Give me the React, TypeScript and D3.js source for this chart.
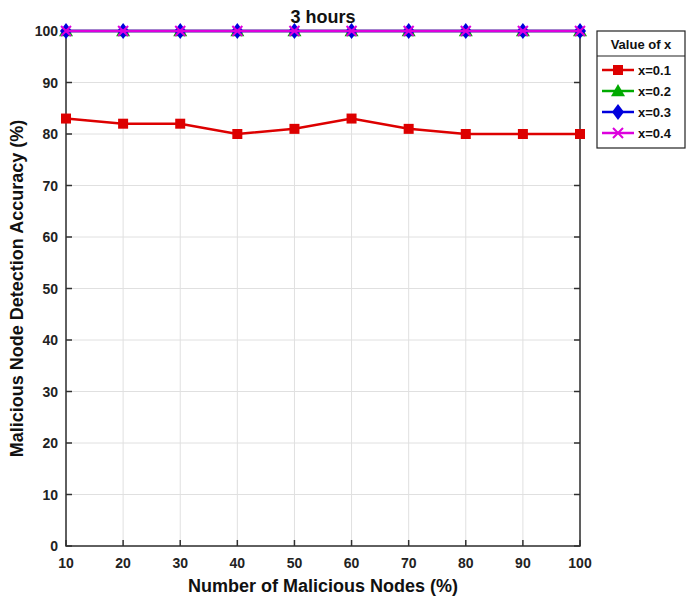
import React from "react";
import * as d3 from "d3";

const xValues = [10, 20, 30, 40, 50, 60, 70, 80, 90, 100];
const seriesX01 = [83, 82, 82, 80, 81, 83, 81, 80, 80, 80];
const seriesX02 = [100, 100, 100, 100, 100, 100, 100, 100, 100, 100];
const seriesX03 = [100, 100, 100, 100, 100, 100, 100, 100, 100, 100];
const seriesX04 = [100, 100, 100, 100, 100, 100, 100, 100, 100, 100];
const seriesNames = ["x=0.1", "x=0.2", "x=0.3", "x=0.4"];
const seriesColors = ["#dd0000", "#00aa00", "#0000dd", "#dd00dd"];
const seriesMarkers = ["square", "triangle", "diamond", "x"];
const yTicks = [0, 10, 20, 30, 40, 50, 60, 70, 80, 90, 100];

const W = 686, H = 604;
const L = 66, R = 580, T = 31, B = 546;

function Marker({ type, x, y, color }: { type: string; x: number; y: number; color: string }) {
  if (type === "square") return <rect x={x - 5} y={y - 5} width={10} height={10} fill={color} />;
  if (type === "triangle") {
    const s = 7;
    return <path d={`M${x},${y - s} L${x + s},${y + s * 0.75} L${x - s},${y + s * 0.75} Z`} fill={color} />;
  }
  if (type === "diamond") {
    return <path d={`M${x},${y - 8} L${x + 6},${y} L${x},${y + 8} L${x - 6},${y} Z`} fill={color} />;
  }
  const s = 5;
  return (
    <path d={`M${x - s},${y - s} L${x + s},${y + s} M${x - s},${y + s} L${x + s},${y - s}`} stroke={color} strokeWidth={2} />
  );
}

export default function App() {
  const x = d3.scaleLinear().domain([10, 100]).range([L, R]);
  const y = d3.scaleLinear().domain([0, 100]).range([B, T]);
  const all = [seriesX01, seriesX02, seriesX03, seriesX04];
  const line = d3.line<number>().x((_, i) => x(xValues[i])).y((d) => y(d));
  const font = "'Liberation Sans', Arial, sans-serif";
  const tickColor = "#303030";

  return (
    <svg width={W} height={H} style={{ position: "absolute", left: 0, top: 0, background: "#fff" }} fontFamily={font}>
      <rect x={0} y={0} width={W} height={H} fill="#fff" />
      {/* grid */}
      {xValues.map((v) => (
        <line key={"gx" + v} x1={x(v)} x2={x(v)} y1={T} y2={B} stroke="#e0e0e0" strokeWidth={1} />
      ))}
      {yTicks.map((v) => (
        <line key={"gy" + v} x1={L} x2={R} y1={y(v)} y2={y(v)} stroke="#e0e0e0" strokeWidth={1} />
      ))}
      {/* box */}
      <rect x={L} y={T} width={R - L} height={B - T} fill="none" stroke={tickColor} strokeWidth={1.5} />
      {/* ticks */}
      {xValues.map((v) => (
        <g key={"tx" + v}>
          <line x1={x(v)} x2={x(v)} y1={B} y2={B - 6} stroke={tickColor} strokeWidth={1.5} />
          <line x1={x(v)} x2={x(v)} y1={T} y2={T + 6} stroke={tickColor} strokeWidth={1.5} />
          <text x={x(v)} y={B + 22} textAnchor="middle" fontSize={14} fontWeight="bold" fill="#222">{v}</text>
        </g>
      ))}
      {yTicks.map((v) => (
        <g key={"ty" + v}>
          <line x1={L} x2={L + 6} y1={y(v)} y2={y(v)} stroke={tickColor} strokeWidth={1.5} />
          <line x1={R} x2={R - 6} y1={y(v)} y2={y(v)} stroke={tickColor} strokeWidth={1.5} />
          <text x={L - 8} y={y(v) + 5} textAnchor="end" fontSize={14} fontWeight="bold" fill="#222">{v}</text>
        </g>
      ))}
      {/* series */}
      {all.map((s, si) => (
        <g key={"s" + si}>
          <path d={line(s) || ""} fill="none" stroke={seriesColors[si]} strokeWidth={2.5} />
          {s.map((d, i) => (
            <Marker key={i} type={seriesMarkers[si]} x={x(xValues[i])} y={y(d)} color={seriesColors[si]} />
          ))}
        </g>
      ))}
      {/* title & labels */}
      <text x={(L + R) / 2} y={23} textAnchor="middle" fontSize={18} fontWeight="bold" fill="#111">3 hours</text>
      <text x={(L + R) / 2} y={592} textAnchor="middle" fontSize={18} fontWeight="bold" fill="#111">Number of Malicious Nodes (%)</text>
      <text transform={`translate(23, ${(T + B) / 2}) rotate(-90)`} textAnchor="middle" fontSize={18} fontWeight="bold" fill="#111">
        Malicious Node Detection Accuracy (%)
      </text>
      {/* legend */}
      <g>
        <rect x={597} y={31} width={88} height={117} fill="#fff" stroke="#222" strokeWidth={1.2} />
        <line x1={597} x2={685} y1={56} y2={56} stroke="#222" strokeWidth={1.2} />
        <text x={641} y={49} textAnchor="middle" fontSize={13} fontWeight="bold" fill="#111">Value of x</text>
        {seriesNames.map((n, i) => {
          const ly = 70 + i * 21;
          return (
            <g key={n}>
              <line x1={602} x2={634} y1={ly} y2={ly} stroke={seriesColors[i]} strokeWidth={2.5} />
              <Marker type={seriesMarkers[i]} x={618} y={ly} color={seriesColors[i]} />
              <text x={638} y={ly + 5} fontSize={13} fontWeight="bold" fill="#111">{n}</text>
            </g>
          );
        })}
      </g>
    </svg>
  );
}
